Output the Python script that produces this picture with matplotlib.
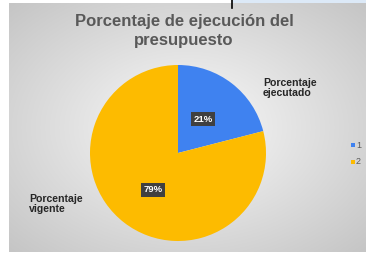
import numpy as np
import matplotlib
matplotlib.use("Agg")
import matplotlib.pyplot as plt
from matplotlib.patches import Rectangle

plt.rcParams["font.family"] = ["Liberation Sans", "DejaVu Sans"]

title = "Porcentaje de ejecución del\npresupuesto"
categories = ["1", "2"]
values = [21, 79]
pct_labels = ["21%", "79%"]
slice_names = ["Porcentaje\nejecutado", "Porcentaje\nvigente"]
colors = ["#3f82f0", "#fdbb00"]

W, H = 366, 254
fig = plt.figure(figsize=(W / 100, H / 100), dpi=100)
fig.patch.set_facecolor("white")

# background gradient chart area
bg = fig.add_axes([9 / W, 2 / H, (W - 9) / W, (H - 5) / H])
bg.set_axis_off()
yy, xx = np.mgrid[0:1:200j, 0:1:300j]
r = np.sqrt(((xx - 0.5) / 0.75) ** 2 + ((yy - 0.5) / 0.75) ** 2)
g = np.clip(0.98 - 0.22 * r, 0.77, 0.98)
img = np.dstack([g, g, g])
bg.imshow(img, aspect="auto", extent=[0, 1, 0, 1], origin="lower")
bg.set_xlim(0, 1)
bg.set_ylim(0, 1)

# top-right strip
fig.patches.append(Rectangle((232 / W, (H - 3) / H), (W - 232) / W, 3 / H,
                             transform=fig.transFigure, facecolor="#dce9f7",
                             edgecolor="none", zorder=5))
fig.lines.append(plt.Line2D([232 / W, 232 / W], [(H - 8) / H, 1],
                            transform=fig.transFigure, color="black", lw=1.2, zorder=6))

fig.text(184 / W, 1 - 31 / H, title, ha="center", va="center", fontsize=12,
         fontweight="bold", color="#595959", linespacing=1.3)

cx, cy, rad = 178, 153, 88
ax = fig.add_axes([(cx - rad) / W, (H - cy - rad) / H, 2 * rad / W, 2 * rad / H])
ax.set_axis_off()
wedges, _ = ax.pie(values, colors=colors, startangle=90, counterclock=False,
                   wedgeprops=dict(linewidth=0))
ax.set_aspect("auto")
ax.set_xlim(-1, 1)
ax.set_ylim(-1, 1)

box = dict(boxstyle="square,pad=0.25", facecolor="#404040", edgecolor="none")
fig.text(203 / W, 1 - 119 / H, pct_labels[0], ha="center", va="center",
         fontsize=6.8, fontweight="bold", color="white", bbox=box)
fig.text(153 / W, 1 - 190 / H, pct_labels[1], ha="center", va="center",
         fontsize=6.8, fontweight="bold", color="white", bbox=box)

fig.text(263 / W, 1 - 88 / H, slice_names[0], ha="left", va="center",
         fontsize=7.6, fontweight="bold", color="#262626", linespacing=1.05)
fig.text(29 / W, 1 - 204 / H, slice_names[1], ha="left", va="center",
         fontsize=7.6, fontweight="bold", color="#262626", linespacing=1.05)

for i, (c, lab) in enumerate(zip(colors, categories)):
    y = 1 - (145 + 17 * i) / H
    fig.patches.append(Rectangle((351 / W, y - 2 / H), 4 / W, 4 / H,
                                 transform=fig.transFigure, facecolor=c,
                                 edgecolor="none"))
    fig.text(356 / W, y, lab, ha="left", va="center", fontsize=6.5, color="#595959")

fig.savefig("out.png", dpi=100)
